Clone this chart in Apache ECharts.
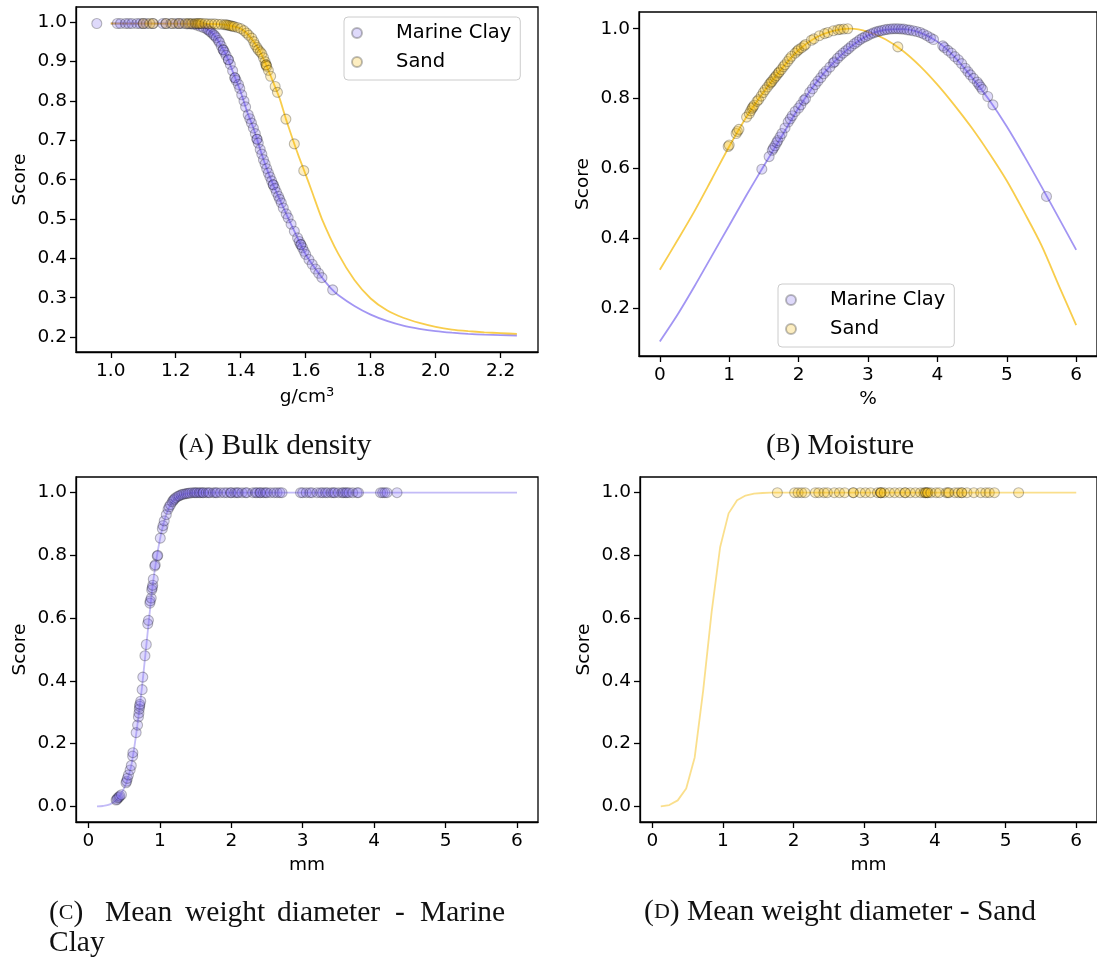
<!DOCTYPE html>
<html>
<head>
<meta charset="utf-8">
<script src="https://cdn.jsdelivr.net/npm/echarts@6/dist/echarts.min.js"></script>
<style>
  html, body { margin: 0; padding: 0; background: #fff; }
  #chart { width: 1097px; height: 957px; }
</style>
</head>
<body>
<div id="chart"></div>
<script>
// ---------- (A) Bulk density ----------
const bulkTicksX = [1.0, 1.2, 1.4, 1.6, 1.8, 2.0, 2.2];
const bulkTicksY = [0.2, 0.3, 0.4, 0.5, 0.6, 0.7, 0.8, 0.9, 1.0];
const bulkClayCurve = [[1.00,0.997],[1.20,0.997],[1.25,0.996],[1.28,0.990],[1.30,0.981],[1.32,0.966],[1.34,0.940],[1.36,0.908],[1.38,0.865],[1.40,0.823],[1.42,0.772],[1.44,0.729],[1.46,0.677],[1.48,0.628],[1.50,0.587],[1.52,0.550],[1.54,0.513],[1.56,0.478],[1.58,0.443],[1.60,0.410],[1.62,0.385],[1.64,0.362],[1.66,0.341],[1.68,0.322],[1.70,0.307],[1.75,0.279],[1.80,0.257],[1.85,0.241],[1.90,0.229],[1.95,0.221],[2.00,0.215],[2.05,0.211],[2.10,0.208],[2.15,0.206],[2.20,0.205],[2.25,0.204]];
const bulkSandCurve = [[1.00,0.997],[1.30,0.996],[1.35,0.994],[1.38,0.989],[1.40,0.984],[1.42,0.971],[1.44,0.951],[1.46,0.925],[1.48,0.888],[1.50,0.848],[1.52,0.806],[1.54,0.752],[1.56,0.703],[1.58,0.656],[1.60,0.613],[1.62,0.568],[1.65,0.500],[1.70,0.412],[1.75,0.345],[1.80,0.298],[1.85,0.268],[1.90,0.249],[1.95,0.236],[2.00,0.226],[2.05,0.219],[2.10,0.215],[2.15,0.212],[2.20,0.210],[2.25,0.208]];
const bulkClayPts = [[0.957,0.997],[1.02,0.997],[1.03,0.997],[1.045,0.997],[1.055,0.997],[1.065,0.997],[1.08,0.997],[1.09,0.997],[1.10,0.997],[1.11,0.997],[1.13,0.997],[1.16,0.997],[1.17,0.997],[1.185,0.997],[1.20,0.997],[1.21,0.997],[1.22,0.997],[1.235,0.996],[1.245,0.996],[1.255,0.995],[1.265,0.993],[1.275,0.990],[1.285,0.987],[1.295,0.983],[1.300,0.981],[1.305,0.977],[1.310,0.974],[1.316,0.969],[1.320,0.966],[1.325,0.961],[1.331,0.954],[1.335,0.949],[1.340,0.940],[1.346,0.930],[1.346,0.930],[1.350,0.924],[1.355,0.916],[1.362,0.905],[1.362,0.905],[1.368,0.893],[1.375,0.877],[1.382,0.859],[1.382,0.859],[1.386,0.852],[1.393,0.842],[1.397,0.832],[1.403,0.816],[1.410,0.800],[1.415,0.785],[1.423,0.765],[1.428,0.755],[1.433,0.744],[1.439,0.731],[1.445,0.717],[1.450,0.703],[1.450,0.703],[1.454,0.693],[1.460,0.677],[1.465,0.665],[1.470,0.651],[1.475,0.640],[1.480,0.628],[1.485,0.617],[1.490,0.607],[1.495,0.597],[1.500,0.587],[1.500,0.587],[1.505,0.578],[1.510,0.568],[1.516,0.558],[1.520,0.550],[1.525,0.541],[1.531,0.528],[1.540,0.513],[1.546,0.503],[1.555,0.487],[1.565,0.469],[1.575,0.452],[1.580,0.443],[1.585,0.435],[1.585,0.435],[1.590,0.427],[1.595,0.418],[1.600,0.410],[1.610,0.397],[1.620,0.385],[1.630,0.373],[1.640,0.362],[1.650,0.351],[1.683,0.320]];
const bulkSandPts = [[1.10,0.997],[1.12,0.997],[1.13,0.997],[1.17,0.997],[1.19,0.997],[1.21,0.997],[1.23,0.997],[1.24,0.997],[1.25,0.997],[1.26,0.997],[1.265,0.997],[1.27,0.997],[1.275,0.997],[1.28,0.997],[1.29,0.997],[1.30,0.996],[1.31,0.996],[1.32,0.996],[1.33,0.995],[1.34,0.995],[1.35,0.994],[1.355,0.994],[1.36,0.993],[1.365,0.992],[1.37,0.991],[1.375,0.990],[1.38,0.989],[1.39,0.987],[1.40,0.984],[1.41,0.979],[1.418,0.973],[1.425,0.967],[1.434,0.960],[1.440,0.951],[1.444,0.943],[1.450,0.936],[1.454,0.930],[1.460,0.925],[1.465,0.920],[1.470,0.910],[1.475,0.900],[1.478,0.892],[1.478,0.892],[1.480,0.888],[1.485,0.878],[1.492,0.863],[1.506,0.837],[1.513,0.822],[1.539,0.754],[1.565,0.691],[1.594,0.623]];

// ---------- (B) Moisture ----------
const moistTicksX = [0, 1, 2, 3, 4, 5, 6];
const moistTicksY = [0.2, 0.4, 0.6, 0.8, 1.0];
const moistClayCurve = [[0,0.105],[0.25,0.180],[0.5,0.263],[0.75,0.350],[1.0,0.437],[1.25,0.524],[1.5,0.608],[1.75,0.690],[2.0,0.773],[2.25,0.845],[2.5,0.902],[2.75,0.948],[3.0,0.981],[3.25,0.997],[3.5,0.999],[3.75,0.989],[4.0,0.963],[4.25,0.919],[4.5,0.860],[4.75,0.795],[5.0,0.720],[5.25,0.636],[5.5,0.548],[5.75,0.458],[6.0,0.367]];
const moistSandCurve = [[0,0.310],[0.25,0.393],[0.5,0.478],[0.75,0.570],[1.0,0.663],[1.25,0.748],[1.5,0.820],[1.75,0.884],[2.0,0.939],[2.25,0.975],[2.5,0.994],[2.75,1.000],[3.0,0.991],[3.25,0.970],[3.5,0.937],[3.75,0.893],[4.0,0.840],[4.25,0.780],[4.5,0.715],[4.75,0.643],[5.0,0.565],[5.25,0.475],[5.5,0.380],[5.75,0.265],[6.0,0.152]];
const moistClayPts = [[1.47,0.598],[1.575,0.634],[1.62,0.652],[1.637,0.658],[1.66,0.665],[1.684,0.674],[1.70,0.680],[1.732,0.690],[1.76,0.700],[1.804,0.716],[1.85,0.733],[1.88,0.742],[1.908,0.751],[1.95,0.763],[2.0,0.773],[2.032,0.782],[2.075,0.795],[2.10,0.800],[2.16,0.818],[2.20,0.828],[2.24,0.840],[2.279,0.850],[2.32,0.860],[2.36,0.871],[2.398,0.879],[2.45,0.890],[2.50,0.902],[2.517,0.905],[2.56,0.915],[2.60,0.923],[2.64,0.930],[2.683,0.937],[2.72,0.943],[2.76,0.950],[2.803,0.957],[2.84,0.962],[2.88,0.968],[2.92,0.973],[2.96,0.977],[3.0,0.981],[3.04,0.985],[3.08,0.988],[3.12,0.991],[3.16,0.993],[3.20,0.995],[3.24,0.997],[3.278,0.998],[3.32,0.999],[3.36,1.0],[3.40,1.0],[3.44,1.0],[3.48,0.999],[3.516,0.999],[3.56,0.997],[3.60,0.996],[3.65,0.994],[3.70,0.992],[3.753,0.989],[3.80,0.985],[3.85,0.980],[3.90,0.974],[3.944,0.969],[4.077,0.951],[4.10,0.946],[4.15,0.938],[4.202,0.930],[4.25,0.920],[4.302,0.911],[4.35,0.900],[4.401,0.887],[4.44,0.877],[4.476,0.868],[4.52,0.858],[4.575,0.847],[4.60,0.840],[4.625,0.833],[4.65,0.826],[4.725,0.806],[4.80,0.782],[5.572,0.520]];
const moistSandPts = [[0.985,0.663],[1.0,0.667],[1.10,0.700],[1.118,0.706],[1.14,0.712],[1.25,0.747],[1.29,0.757],[1.31,0.765],[1.33,0.772],[1.342,0.776],[1.36,0.781],[1.40,0.792],[1.423,0.797],[1.46,0.807],[1.49,0.817],[1.518,0.825],[1.55,0.833],[1.58,0.841],[1.60,0.846],[1.613,0.849],[1.64,0.856],[1.66,0.861],[1.68,0.866],[1.708,0.873],[1.72,0.876],[1.75,0.883],[1.78,0.891],[1.804,0.897],[1.84,0.906],[1.87,0.914],[1.898,0.921],[1.95,0.930],[1.98,0.936],[2.0,0.940],[2.041,0.945],[2.08,0.951],[2.10,0.955],[2.184,0.967],[2.22,0.971],[2.30,0.980],[2.375,0.986],[2.42,0.989],[2.50,0.994],[2.565,0.997],[2.60,0.998],[2.65,0.999],[2.707,1.0],[3.43,0.948]];

// ---------- (C)/(D) Mean weight diameter ----------
const mwdTicksX = [0, 1, 2, 3, 4, 5, 6];
const mwdTicksY = [0.0, 0.2, 0.4, 0.6, 0.8, 1.0];
const mwdClayCurve = [[0.12,0.0],[0.2,0.001],[0.3,0.006],[0.4,0.022],[0.5,0.058],[0.55,0.088],[0.6,0.13],[0.65,0.2],[0.7,0.285],[0.75,0.38],[0.8,0.49],[0.85,0.6],[0.9,0.705],[0.95,0.785],[1.0,0.85],[1.05,0.9],[1.1,0.937],[1.15,0.962],[1.2,0.978],[1.3,0.993],[1.4,0.998],[1.5,1.0],[6.0,1.0]];
const mwdClayPts = [[0.388,0.020],[0.40,0.022],[0.41,0.027],[0.428,0.029],[0.44,0.033],[0.462,0.037],[0.526,0.075],[0.535,0.080],[0.545,0.089],[0.56,0.100],[0.584,0.116],[0.60,0.130],[0.619,0.160],[0.622,0.171],[0.668,0.235],[0.688,0.259],[0.70,0.285],[0.707,0.297],[0.712,0.310],[0.717,0.319],[0.72,0.325],[0.732,0.335],[0.752,0.372],[0.761,0.412],[0.791,0.480],[0.81,0.516],[0.83,0.582],[0.84,0.593],[0.86,0.648],[0.865,0.655],[0.879,0.664],[0.886,0.690],[0.894,0.697],[0.90,0.705],[0.908,0.724],[0.928,0.766],[0.935,0.770],[0.963,0.798],[0.97,0.800],[1.006,0.855],[1.035,0.885],[1.045,0.895],[1.061,0.910],[1.09,0.930],[1.115,0.947],[1.13,0.955],[1.15,0.962],[1.174,0.971],[1.19,0.976],[1.205,0.980],[1.223,0.984],[1.25,0.988],[1.27,0.990],[1.296,0.993],[1.32,0.995],[1.345,0.996],[1.37,0.997],[1.395,0.998],[1.42,0.999],[1.45,1.0],[1.48,1.0],[1.50,1.0],[1.52,1.0],[1.55,1.0],[1.57,1.0],[1.60,1.0],[1.61,1.0],[1.65,1.0],[1.68,1.0],[1.70,1.0],[1.75,1.0],[1.78,1.0],[1.80,1.0],[1.85,1.0],[1.90,1.0],[1.94,1.0],[1.99,1.0],[2.00,1.0],[2.05,1.0],[2.08,1.0],[2.10,1.0],[2.15,1.0],[2.20,1.0],[2.22,1.0],[2.30,1.0],[2.34,1.0],[2.36,1.0],[2.40,1.0],[2.41,1.0],[2.45,1.0],[2.48,1.0],[2.50,1.0],[2.55,1.0],[2.60,1.0],[2.64,1.0],[2.68,1.0],[2.71,1.0],[2.97,1.0],[3.00,1.0],[3.05,1.0],[3.10,1.0],[3.13,1.0],[3.20,1.0],[3.25,1.0],[3.28,1.0],[3.32,1.0],[3.35,1.0],[3.40,1.0],[3.43,1.0],[3.45,1.0],[3.50,1.0],[3.55,1.0],[3.57,1.0],[3.60,1.0],[3.62,1.0],[3.65,1.0],[3.70,1.0],[3.76,1.0],[3.78,1.0],[4.09,1.0],[4.12,1.0],[4.15,1.0],[4.18,1.0],[4.32,1.0]];
const mwdSandCurve = [[0.12,0.0],[0.24,0.004],[0.36,0.019],[0.48,0.057],[0.60,0.156],[0.72,0.369],[0.84,0.620],[0.96,0.826],[1.08,0.934],[1.20,0.976],[1.32,0.991],[1.44,0.997],[1.56,0.999],[1.68,1.0],[6.0,1.0]];
const mwdSandPts = [[1.77,1.0],[2.015,1.0],[2.064,1.0],[2.113,1.0],[2.162,1.0],[2.308,1.0],[2.357,1.0],[2.43,1.0],[2.478,1.0],[2.576,1.0],[2.649,1.0],[2.723,1.0],[2.845,1.0],[2.845,1.0],[2.943,1.0],[3.016,1.0],[3.089,1.0],[3.187,1.0],[3.235,1.0],[3.235,1.0],[3.235,1.0],[3.284,1.0],[3.357,1.0],[3.431,1.0],[3.504,1.0],[3.577,1.0],[3.58,1.0],[3.651,1.0],[3.724,1.0],[3.797,1.0],[3.846,1.0],[3.87,1.0],[3.87,1.0],[3.895,1.0],[3.9,1.0],[3.944,1.0],[4.016,1.0],[4.063,1.0],[4.159,1.0],[4.184,1.0],[4.2,1.0],[4.282,1.0],[4.331,1.0],[4.38,1.0],[4.38,1.0],[4.453,1.0],[4.551,1.0],[4.649,1.0],[4.72,1.0],[4.769,1.0],[4.842,1.0],[5.184,1.0]];

// ---------- styling helpers ----------
const SANS = 'DejaVu Sans';
const SERIF = 'Liberation Serif';
const CLAY_FILL = 'rgba(123,104,238,0.3)';
const SAND_FILL = 'rgba(245,184,0,0.3)';
const EDGE = 'rgba(0,0,0,0.33)';
const CLAY_LINE = 'rgba(123,104,238,0.7)';
const SAND_LINE = 'rgba(245,184,0,0.7)';
const CLAY_LINE_LIGHT = 'rgba(123,104,238,0.45)';
const SAND_LINE_LIGHT = 'rgba(245,184,0,0.45)';
const TICK_FONT = 18.5;

function fmt(d) { return v => Number(v).toFixed(d); }

function xAxis(gridIndex, min, max, ticks, digits, name, nameRich) {
  return {
    type: 'value', gridIndex, min, max,
    name, nameLocation: 'middle', nameGap: 34,
    nameTextStyle: { fontFamily: SANS, fontSize: TICK_FONT, color: '#000', rich: nameRich },
    axisLine: { show: true, onZero: false, lineStyle: { color: '#000', width: 1.3 } },
    axisTick: { show: true, length: 6, lineStyle: { color: '#000', width: 1.3 }, customValues: ticks },
    axisLabel: { show: true, margin: 10, fontFamily: SANS, fontSize: TICK_FONT, color: '#000', customValues: ticks, formatter: fmt(digits) },
    splitLine: { show: false }
  };
}
function yAxis(gridIndex, min, max, ticks, nameGap) {
  return {
    type: 'value', gridIndex, min, max,
    name: 'Score', nameLocation: 'middle', nameGap,
    nameTextStyle: { fontFamily: SANS, fontSize: TICK_FONT, color: '#000' },
    axisLine: { show: true, onZero: false, lineStyle: { color: '#000', width: 1.3 } },
    axisTick: { show: true, length: 6, lineStyle: { color: '#000', width: 1.3 }, customValues: ticks },
    axisLabel: { show: true, margin: 9, fontFamily: SANS, fontSize: TICK_FONT, color: '#000', customValues: ticks, formatter: fmt(1) },
    splitLine: { show: false }
  };
}
function curve(name, idx, data, color, smooth) {
  return {
    type: 'line', name, xAxisIndex: idx, yAxisIndex: idx, data,
    showSymbol: false, symbol: 'none', smooth: smooth, silent: true, z: 1,
    lineStyle: { color, width: 1.8 }
  };
}
function dots(name, idx, data, fill) {
  return {
    type: 'scatter', name, xAxisIndex: idx, yAxisIndex: idx, data,
    symbol: 'circle', symbolSize: 10, z: 2,
    itemStyle: { color: fill, borderColor: EDGE, borderWidth: 1.1 },
    emphasis: { disabled: true }
  };
}
function legendAt(left, top) {
  return {
    left, top, orient: 'vertical',
    data: ['Marine Clay', 'Sand'],
    icon: 'circle', itemWidth: 40, itemHeight: 10, itemGap: 9,
    padding: [6, 9, 8, 7],
    backgroundColor: 'rgba(255,255,255,0.8)',
    borderColor: '#cccccc', borderWidth: 1, borderRadius: 4,
    selectedMode: false,
    formatter: name => '{t|' + name + '}',
    textStyle: {
      fontFamily: SANS, fontSize: 19.5, color: '#000', lineHeight: 20,
      rich: { t: { fontFamily: SANS, fontSize: 19.5, color: '#000', lineHeight: 20, padding: [0, 0, 0, 14] } }
    }
  };
}
const gridBox = { show: true, borderColor: '#000', borderWidth: 1.3, backgroundColor: 'transparent', containLabel: false };

// Caption text (small-caps letter inside the parentheses)
const CAP_SIZE = 29.5;
const capRich = { sc: { fontFamily: SERIF, fontSize: 22, fill: '#111' } };
function caption(x, y, text, align) {
  return {
    type: 'text', x, y, silent: true,
    style: { text, fontFamily: SERIF, fontSize: CAP_SIZE, fill: '#111',
             textAlign: align || 'center', textVerticalAlign: 'middle', rich: capRich }
  };
}

const chart = echarts.init(document.getElementById('chart'), null, { renderer: 'canvas' });
chart.setOption({
  animation: false,
  backgroundColor: '#fff',
  grid: [
    Object.assign({ left: 76, top: 7, width: 462, height: 345 }, gridBox),
    Object.assign({ left: 639, top: 12, width: 463, height: 344 }, gridBox),
    Object.assign({ left: 76, top: 477, width: 462, height: 345 }, gridBox),
    Object.assign({ left: 640, top: 477, width: 462, height: 345 }, gridBox)
  ],
  xAxis: [
    xAxis(0, 0.893, 2.315, bulkTicksX, 1, 'g/cm{sup|3}', { sup: { fontFamily: SANS, fontSize: 13, color: '#000', padding: [0, 0, 9, 0] } }),
    xAxis(1, -0.3, 6.3, moistTicksX, 0, '%'),
    xAxis(2, -0.174, 6.294, mwdTicksX, 0, 'mm'),
    xAxis(3, -0.174, 6.294, mwdTicksX, 0, 'mm')
  ],
  yAxis: [
    yAxis(0, 0.162, 1.039, bulkTicksY, 46),
    yAxis(1, 0.0634, 1.0478, moistTicksY, 46),
    yAxis(2, -0.05, 1.05, mwdTicksY, 46),
    yAxis(3, -0.05, 1.05, mwdTicksY, 46)
  ],
  legend: [legendAt(344, 17), legendAt(778, 284)],
  series: [
    curve('Marine Clay fit', 0, bulkClayCurve, CLAY_LINE, 0.2),
    curve('Sand fit', 0, bulkSandCurve, SAND_LINE, 0.2),
    dots('Marine Clay', 0, bulkClayPts, CLAY_FILL),
    dots('Sand', 0, bulkSandPts, SAND_FILL),

    curve('Marine Clay fit', 1, moistClayCurve, CLAY_LINE, 0.3),
    curve('Sand fit', 1, moistSandCurve, SAND_LINE, 0.3),
    dots('Marine Clay', 1, moistClayPts, CLAY_FILL),
    dots('Sand', 1, moistSandPts, SAND_FILL),

    curve('Marine Clay fit', 2, mwdClayCurve, CLAY_LINE_LIGHT, 0.3),
    dots('Marine Clay', 2, mwdClayPts, CLAY_FILL),

    curve('Sand fit', 3, mwdSandCurve, SAND_LINE_LIGHT, false),
    dots('Sand', 3, mwdSandPts, SAND_FILL)
  ],
  graphic: [
    caption(275, 446.5, '({sc|A}) Bulk density'),
    caption(840, 446.5, '({sc|B}) Moisture'),
    caption(840, 912.5, '({sc|D}) Mean weight diameter - Sand'),
    // justified two-line caption for panel C
    caption(49, 913, '({sc|C})', 'left'),
    caption(105, 913, 'Mean', 'left'),
    caption(185, 913, 'weight', 'left'),
    caption(277, 913, 'diameter', 'left'),
    caption(395, 913, '-', 'left'),
    caption(420, 913, 'Marine', 'left'),
    caption(49, 943, 'Clay', 'left')
  ]
});
</script>
</body>
</html>
